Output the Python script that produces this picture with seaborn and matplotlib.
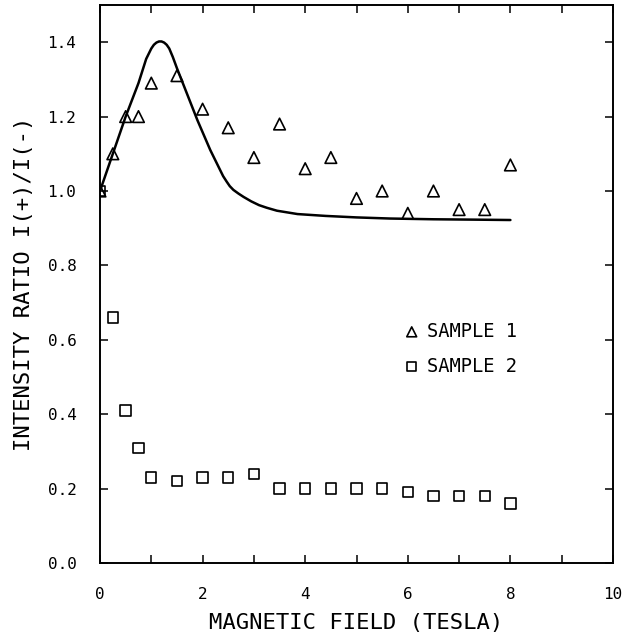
import numpy as np
import pandas as pd
import matplotlib
matplotlib.use("Agg")
import matplotlib.pyplot as plt
import seaborn as sns

# ==========================================
#  DATA
# ==========================================
field = [0.0, 0.25, 0.5, 0.75, 1.0, 1.5, 2.0, 2.5, 3.0, 3.5,
         4.0, 4.5, 5.0, 5.5, 6.0, 6.5, 7.0, 7.5, 8.0]
sample1 = [1.00, 1.10, 1.20, 1.20, 1.29, 1.31, 1.22, 1.17, 1.09, 1.18,
           1.06, 1.09, 0.98, 1.00, 0.94, 1.00, 0.95, 0.95, 1.07]
sample2 = [1.00, 0.66, 0.41, 0.31, 0.23, 0.22, 0.23, 0.23, 0.24, 0.20,
           0.20, 0.20, 0.20, 0.20, 0.19, 0.18, 0.18, 0.18, 0.16]

# theory curve
curve_field = [0.0, 0.25, 0.5, 0.75, 0.9, 1.0, 1.05, 1.1, 1.15, 1.2, 1.25,
               1.3, 1.35, 1.42, 1.5, 1.7, 1.9, 2.15, 2.4, 2.47, 2.53, 2.6,
               2.7, 2.8, 2.95, 3.1, 3.25, 3.45, 3.85, 4.4, 5.0, 5.65,
               6.5, 7.3, 8.0]
curve_ratio = [1.00, 1.10, 1.20, 1.29, 1.355, 1.383, 1.393, 1.399, 1.402,
               1.402, 1.399, 1.393, 1.383, 1.36, 1.33, 1.26, 1.19, 1.11,
               1.04, 1.025, 1.013, 1.003, 0.993, 0.984, 0.972, 0.962,
               0.955, 0.947, 0.938, 0.933, 0.929, 0.926, 0.924, 0.923, 0.922]

labels = ["SAMPLE 1", "SAMPLE 2"]

df = pd.DataFrame({"Field": field, "S1": sample1, "S2": sample2})
curve = pd.DataFrame({"Field": curve_field, "Ratio": curve_ratio})

# ==========================================
#  PLOT
# ==========================================
sns.set_style("ticks", {"axes.edgecolor": "black", "text.color": "black",
                        "axes.labelcolor": "black", "xtick.color": "black",
                        "ytick.color": "black"})
plt.rcParams["font.family"] = ["DejaVu Sans Mono", "DejaVu Sans"]

fig = plt.figure(figsize=(6.26, 6.40), dpi=100)
ax = fig.add_axes([100 / 626, 77 / 640, 513 / 626, 558 / 640])

sns.lineplot(data=curve, x="Field", y="Ratio", color="black", lw=1.8,
             ax=ax, sort=False)
sns.scatterplot(data=df, x="Field", y="S1", marker="^", s=70,
                facecolors="none", edgecolor="black", linewidth=1.2,
                ax=ax, label=labels[0], zorder=3)
sns.scatterplot(data=df, x="Field", y="S2", marker="s", s=55,
                facecolors="none", edgecolor="black", linewidth=1.2,
                ax=ax, label=labels[1], zorder=3)

ax.set_xlim(0, 10)
ax.set_ylim(0, 1.5)
ax.set_xticks(np.arange(0, 11, 2))
ax.set_xticks(np.arange(1, 10, 2), minor=True)
ax.set_yticks(np.arange(0, 1.41, 0.2))
ax.set_yticklabels([f"{v:.1f}" for v in np.arange(0, 1.41, 0.2)])

ax.tick_params(axis="both", which="both", direction="in", top=True,
               right=True, length=6, width=1.1, labelsize=11.5,
               colors="black")
ax.tick_params(axis="x", which="both", pad=17)
ax.tick_params(axis="y", which="both", pad=17)
for sp in ax.spines.values():
    sp.set_linewidth(1.4)
    sp.set_color("black")

ax.set_xlabel("MAGNETIC FIELD (TESLA)", fontsize=16, labelpad=8)
ax.set_ylabel("INTENSITY RATIO I(+)/I(-)", fontsize=16, labelpad=10)

ax.legend(loc="center left", bbox_to_anchor=(0.593, 0.384),
          frameon=False, fontsize=13.5, markerscale=0.85,
          handlelength=0.8, handletextpad=0.4, labelspacing=0.85,
          borderpad=0, borderaxespad=0)

plt.savefig("out.png", dpi=100)
